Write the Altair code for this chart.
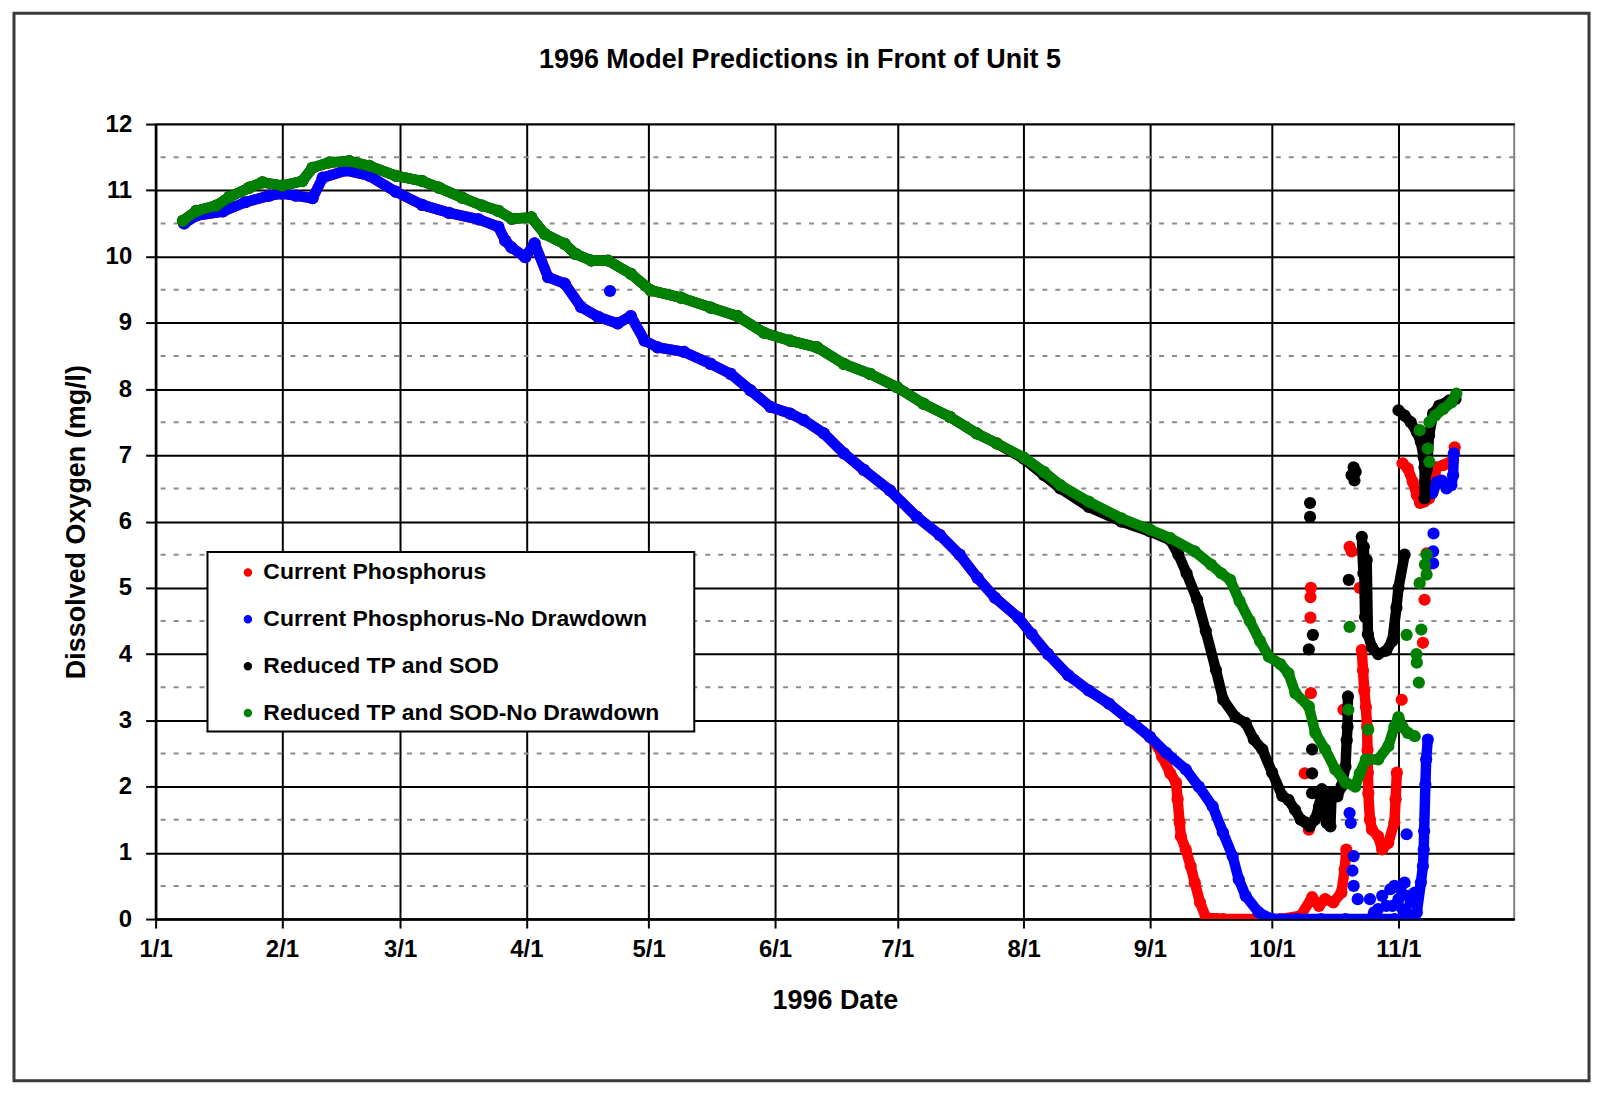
import altair as alt
import pandas as pd

FONT = "Liberation Sans, Arial, Helvetica, sans-serif"

SERIES = ["Current Phosphorus", "Current Phosphorus-No Drawdown",
          "Reduced TP and SOD", "Reduced TP and SOD-No Drawdown"]
COLORS = ["#ff0000", "#0000ff", "#000000", "#008000"]

MONTH_START_DAYS = [0, 31, 60, 91, 121, 152, 182, 213, 244, 274, 305]
Y_TICKS = list(range(0, 13))
HALF_TICKS = [0.5, 1.5, 2.5, 3.5, 4.5, 5.5, 6.5, 7.5, 8.5, 9.5, 10.5, 11.5]

# ---- shared part of the two "Current Phosphorus" runs (they overlap until early September)
EARLY_CP_DAY = [7, 10, 16.5, 22, 27.9, 31, 34.4, 38.5, 41, 46.7, 52.4, 58.9, 65.4, 72, 79.3,
                84.1, 85.8, 87.3, 90.7, 93, 96.3, 100.4, 104.4, 108.6, 113.4, 116.6, 120,
                123.2, 129.7, 136.2, 141.1, 146, 150.9, 155.7, 159.1, 164, 168.9, 173.8,
                180.2, 186.8, 192.4, 197.3, 201.7, 206, 211.7, 215, 219, 224, 229, 234, 239, 244]
EARLY_CP_DO = [10.5, 10.62, 10.68, 10.82, 10.92, 10.95, 10.92, 10.88, 11.19, 11.3, 11.22, 10.98,
               10.78, 10.66, 10.56, 10.45, 10.24, 10.14, 9.99, 10.2, 9.69, 9.59, 9.24, 9.09,
               8.99, 9.1, 8.73, 8.63, 8.56, 8.38, 8.23, 7.98, 7.73, 7.63, 7.53, 7.33, 7.03,
               6.78, 6.47, 6.07, 5.8, 5.5, 5.15, 4.85, 4.55, 4.3, 4.0, 3.68, 3.45, 3.25, 3.0, 2.75]

# ---- shared part of the two "Reduced TP and SOD" runs
EARLY_RTP_DAY = [6.7, 10, 14.9, 18.1, 23, 26.2, 31.1, 36, 38.5, 42.6, 47.5, 52.4, 58.9, 65.4,
                 69.5, 75.2, 80.1, 84.1, 87.4, 92.2, 95.5, 100.4, 103, 106.9, 111, 116.6,
                 121.5, 128.9, 136.2, 142.8, 149.3, 155.7, 162.3, 168.9, 175.3, 181.9,
                 188.4, 194.9, 201.5, 206.4]
EARLY_RTP_DO = [10.54, 10.69, 10.77, 10.9, 11.04, 11.12, 11.07, 11.14, 11.34, 11.42, 11.44,
                11.37, 11.22, 11.14, 11.04, 10.89, 10.77, 10.69, 10.57, 10.59, 10.34, 10.19,
                10.04, 9.94, 9.94, 9.74, 9.49, 9.38, 9.23, 9.1, 8.85, 8.73, 8.63, 8.38, 8.23,
                8.03, 7.78, 7.58, 7.33, 7.18]

# ---- Current Phosphorus (red), after the shared part. SEG 0 = isolated points
RED_DAY = [246, 247, 249, 250.4, 250.8, 251.3, 251.6, 252.8, 254, 255, 256.3, 257.7, 262, 270,
           276, 281, 283.8, 285.5, 287, 289, 291, 291.8, 292.2,
           283, 282, 283.5, 283.4, 283.4, 283.5, 293, 293.5, 295.5, 291.5, 305.8, 311, 311.4,
           311.9, 312.2,
           296, 296.3, 296.6, 297, 297.3, 297.4, 297.5, 297.6, 298, 298.5, 300, 301, 302.5,
           304, 304.3, 304.6,
           306, 307.3, 308.5, 309.5, 310.3, 311.3, 312.5, 313.5, 314.3, 316, 318.4, 318.8]
RED_DO = [2.6, 2.45, 2.2, 2.06, 1.81, 1.46, 1.25, 1.05, 0.8, 0.55, 0.25, 0.03, 0.0, 0.0,
          0.0, 0.05, 0.33, 0.2, 0.3, 0.25, 0.4, 0.75, 1.05,
          1.35, 2.2, 3.41, 4.55, 4.86, 5.0, 5.62, 5.55, 5.0, 3.16, 3.31, 4.17, 4.82,
          5.52, 5.35,
          4.06, 3.75, 3.45, 3.2, 2.9, 2.55, 2.21, 1.9, 1.5, 1.35, 1.25, 1.05, 1.15,
          1.46, 1.81, 2.21,
          6.88, 6.8, 6.6, 6.4, 6.28, 6.3, 6.35, 6.47, 6.82, 6.85, 6.93, 7.12]
RED_SEG = [1] * 23 + [0] * 15 + [2] * 16 + [3] * 12

# ---- Current Phosphorus-No Drawdown (blue), after the shared part
BLUE_DAY = [248, 252.8, 256, 259.4, 261.9, 264.3, 265.8, 267.5, 270.7, 274, 280, 286, 292,
            298, 304, 309,
            298, 300, 302, 303, 304, 305, 306, 307.5, 293, 293.3, 294, 293.7, 294, 295,
            307, 313.5, 313.5, 313.6, 111.5, 299, 301, 303.5, 305.5, 307, 308, 309, 306.5,
            309.5, 310.5, 311, 311.2, 311.3, 311.6, 311.8, 312.2,
            313.3, 314.5, 315.6, 316.8, 318, 318.4, 318.6]
BLUE_DO = [2.51, 2.26, 2.0, 1.7, 1.31, 0.95, 0.6, 0.35, 0.1, 0.0, 0.0, 0.0, 0.0,
           0.0, 0.0, 0.0,
           0.3, 0.15, 0.2, 0.45, 0.5, 0.3, 0.15, 0.35, 1.6, 1.45, 0.95, 0.73, 0.5, 0.3,
           1.28, 5.37, 5.55, 5.82, 9.48, 0.1, 0.35, 0.2, 0.45, 0.1, 0.25, 0.4, 0.55,
           0.1, 0.55, 0.8, 1.05, 1.33, 2.03, 2.41, 2.71,
           6.43, 6.6, 6.62, 6.5, 6.55, 6.7, 7.03]
BLUE_SEG = [1] * 16 + [0] * 27 + [2] * 8 + [3] * 7

# ---- Reduced TP and SOD (black), after the shared part
BLACK_DAY = [213, 218, 222, 229, 237, 244, 249, 251, 253, 255.6, 257.7, 260.2, 262, 265,
             267.5, 269.5, 271.6, 274, 276.5, 278, 279.6, 281, 282.2, 283.2, 284.5, 285.5,
             286.2, 287.4, 288.3, 288.6, 290, 291, 292, 292.3, 292.5, 292.6,
             283.8, 283.8, 283.8, 283, 284, 283.3, 283.3, 292.8, 293.5, 294, 294.5, 294.2,
             296, 296.5, 297.2, 296.4, 297, 296.8, 297.5, 298.5, 300, 302, 303.5, 304.5,
             305, 306.5,
             305, 306.5, 308, 309.5, 310.5, 311.2, 311.4, 311.5, 311.4, 312, 312.5, 313.5,
             315, 317.5, 319]
BLACK_DO = [6.95, 6.7, 6.5, 6.22, 6.0, 5.85, 5.72, 5.5, 5.22, 4.82, 4.35, 3.76, 3.31, 3.05,
            2.96, 2.71, 2.56, 2.21, 1.86, 1.8, 1.65, 1.5, 1.46, 1.4, 1.5, 1.7,
            1.96, 1.45, 1.4, 1.9, 1.85, 2.0, 2.3, 2.7, 2.9, 3.36,
            2.56, 2.2, 1.9, 4.07, 4.29, 6.07, 6.28, 5.12, 6.7, 6.82, 6.75, 6.62,
            5.77, 5.62, 5.42, 5.22, 4.86, 4.56, 4.3, 4.1, 4.0, 4.05, 4.2, 4.7,
            5.0, 5.5,
            7.68, 7.6, 7.5, 7.35, 7.2, 6.97, 6.82, 6.6, 6.35, 6.8, 7.3, 7.63,
            7.75, 7.83, 7.85]
BLACK_SEG = [1] * 36 + [0] * 12 + [2] * 14 + [3] * 15

# ---- Reduced TP and SOD-No Drawdown (green), after the shared part
GREEN_DAY = [213, 218, 222, 229, 237, 244, 249, 255, 259, 261.5, 263.7, 266, 268.5, 271,
             273.2, 276, 278, 279.7, 283, 284.6, 287, 289.5, 292, 294.4, 295.5, 297, 300,
             302.5, 304, 305, 306, 307.3, 309,
             292.7, 293, 297.6, 307, 309.4, 310, 310.6, 310.2, 311.9, 311.5, 311.9, 310.2,
             312.6, 312.2, 309.5,
             312.6, 314, 316, 318, 319.2]
GREEN_DO = [6.97, 6.75, 6.55, 6.3, 6.05, 5.88, 5.75, 5.55, 5.35, 5.22, 5.12, 4.8, 4.5, 4.2,
            3.96, 3.85, 3.71, 3.41, 3.21, 2.81, 2.56, 2.26, 2.06, 2.0, 2.2, 2.41, 2.41,
            2.61, 2.9, 3.05, 2.9, 2.81, 2.76,
            3.16, 4.41, 2.86, 4.29, 4.0, 3.57, 4.37, 5.07, 5.2, 5.35, 5.5, 7.38,
            6.9, 7.1, 3.87,
            7.5, 7.6, 7.7, 7.8, 7.93]
GREEN_SEG = [1] * 33 + [0] * 15 + [2] * 5


def build(name, early_day, early_do, day, do, seg):
    d = pd.DataFrame({"day": list(early_day) + list(day),
                      "do": list(early_do) + list(do),
                      "seg": [1] * len(early_day) + list(seg)})
    d["series"] = name
    d["seg_id"] = name + "-" + d["seg"].astype(str)
    return d


frames = {
    SERIES[0]: build(SERIES[0], EARLY_CP_DAY, EARLY_CP_DO, RED_DAY, RED_DO, RED_SEG),
    SERIES[1]: build(SERIES[1], EARLY_CP_DAY, EARLY_CP_DO, BLUE_DAY, BLUE_DO, BLUE_SEG),
    SERIES[2]: build(SERIES[2], EARLY_RTP_DAY, EARLY_RTP_DO, BLACK_DAY, BLACK_DO, BLACK_SEG),
    SERIES[3]: build(SERIES[3], EARLY_RTP_DAY, EARLY_RTP_DO, GREEN_DAY, GREEN_DO, GREEN_SEG),
}

W, H = 1362, 797

x_axis = alt.Axis(values=MONTH_START_DAYS,
                  labelExpr="timeFormat(datetime(1996, 0, 1 + datum.value), '%-m/%-d')",
                  grid=True, gridColor="#000000", gridWidth=2,
                  domainColor="#000000", domainWidth=2.5,
                  ticks=True, tickSize=9, tickColor="#000000", tickWidth=2,
                  labelFont=FONT, labelFontSize=24, labelFontWeight="bold", labelColor="#000000",
                  labelPadding=10, labelFlush=False, labelOverlap=False,
                  title="1996 Date", titleFont=FONT, titleFontSize=27, titleFontWeight="bold",
                  titleColor="#000000", titleY=82, titleBaseline="middle")
y_axis = alt.Axis(values=Y_TICKS, grid=True, gridColor="#000000", gridWidth=2,
                  domainColor="#000000", domainWidth=2.5,
                  ticks=True, tickSize=10, tickColor="#000000", tickWidth=2,
                  labelFont=FONT, labelFontSize=24, labelFontWeight="bold", labelColor="#000000",
                  labelPadding=14, labelFlush=False, labelOverlap=False,
                  title="Dissolved Oxygen (mg/l)", titleFont=FONT, titleFontSize=27,
                  titleFontWeight="bold", titleColor="#000000",
                  titleX=-79, titleY=H / 2, titleBaseline="middle", titleAngle=-90)

x_scale = alt.Scale(domain=[0, 333.4], nice=False, zero=False)
y_scale = alt.Scale(domain=[0, 12], nice=False, zero=False)
color_scale = alt.Scale(domain=SERIES, range=COLORS)

X = alt.X("day:Q", scale=x_scale, axis=x_axis)
Y = alt.Y("do:Q", scale=y_scale, axis=y_axis)

legend = alt.Legend(title=None, orient="none", legendX=81, legendY=438,
                    symbolType="circle", symbolSize=30, symbolStrokeWidth=3,
                    labelFont=FONT, labelFontSize=23, labelFontWeight="bold",
                    labelColor="#000000", labelOffset=4, rowPadding=23, padding=0,
                    labelLimit=600)
COLOR = alt.Color("series:N", scale=color_scale, legend=legend)

half_grid = alt.Chart(pd.DataFrame({"do": HALF_TICKS})).mark_rule(
    color="#8c8c8c", strokeWidth=2, strokeDash=[5, 8]
).encode(y=Y)

layers = [half_grid]
for name in SERIES:
    d = frames[name]
    pts = alt.Chart(d).mark_point(
        filled=True, shape="circle", size=150, opacity=1, clip=True
    ).encode(x=X, y=Y, color=COLOR)
    line = alt.Chart(d[d["seg"] > 0]).mark_line(
        strokeWidth=10.5, strokeCap="round", strokeJoin="round", clip=True
    ).encode(x=X, y=Y, detail="seg_id:N", color=COLOR)
    layers += [pts, line]

legend_box = alt.Chart(pd.DataFrame({"k": [0]})).mark_rect(
    fill="#ffffff", stroke="#000000", strokeWidth=2
).encode(x=alt.value(52), x2=alt.value(540), y=alt.value(429), y2=alt.value(609))

frame = alt.Chart(pd.DataFrame({"k": [0]})).mark_rect(
    fillOpacity=0, stroke="#3a3a3a", strokeWidth=3, clip=False
).encode(x=alt.value(-142), x2=alt.value(1437), y=alt.value(-111), y2=alt.value(959))

chart = alt.layer(*layers, legend_box, frame).properties(
    width=W, height=H,
    title=alt.Title("1996 Model Predictions in Front of Unit 5", font=FONT, fontSize=27,
                    fontWeight="bold", color="#000000", anchor="middle", frame="group",
                    baseline="middle", offset=0, dx=-35, dy=75),
    padding={"left": 148, "top": 115, "right": 80, "bottom": 164},
    autosize=alt.AutoSizeParams(type="none"),
    background="#ffffff",
).configure_view(stroke="#808080", strokeWidth=2)

chart.save("out.html", embed_options={"renderer": "svg", "actions": False})
